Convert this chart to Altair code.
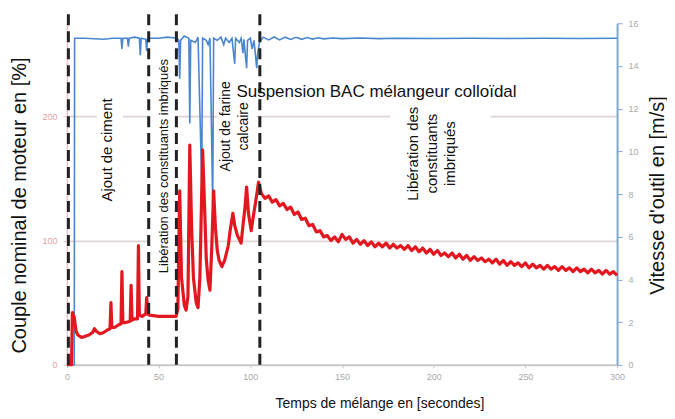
import altair as alt
import pandas as pd

# ---- data ----
red_t = [0, 2.5, 3, 4, 5, 6, 8, 10, 12, 14, 15, 16, 18, 20, 22, 23.5, 24, 24.5, 26, 28, 29.5, 30, 30.5,
         32, 34.5, 35, 35.5, 37, 38.5, 39, 39.5, 41, 43, 43.5, 44, 45, 50, 55, 59.5, 60.5, 61.5, 62.5,
         64, 65, 66, 67, 68, 69, 70.5, 71.5, 72.5, 74, 75, 76, 77, 78, 79, 80, 81, 82, 83, 84.5, 86, 87,
         88, 89, 90.5, 91.5, 93, 95, 96, 97, 98, 99, 100.5, 101.5, 103, 104.5, 105.5, 106,
         108, 110, 112, 114, 116, 118, 120, 122, 124, 126, 128, 130, 132, 134, 136, 138, 140, 142, 144,
         146, 148, 150, 152, 154, 156, 158, 160, 162, 164, 166, 168, 170, 172, 174, 176, 178, 180, 182,
         184, 186, 188, 190, 192, 194, 196, 198, 200, 202, 204, 206, 208, 210, 212, 214, 216, 218, 220,
         222, 224, 226, 228, 230, 232, 234, 236, 238, 240, 242, 244, 246, 248, 250, 252, 254, 256, 258,
         260, 262, 264, 266, 268, 270, 272, 274, 276, 278, 280, 282, 284, 286, 288, 290, 292, 294, 296,
         298, 300]
red_v = [0, 0, 42, 38, 27, 24, 22, 23, 24, 26, 29, 27, 25, 26, 28, 29, 50, 30, 30, 32, 33, 75, 34,
         34, 35, 64, 36, 37, 37, 96, 40, 39, 41, 54, 41, 40, 39, 39, 39, 45, 140, 70,
         48, 44, 55, 177, 110, 70, 50, 46, 70, 173, 130, 85, 68, 60, 95, 140, 110, 92, 84, 79, 84, 90,
         96, 108, 122, 112, 104, 98, 112, 125, 143, 122, 108, 118, 132, 147, 141, 138,
         134, 136, 131, 133, 128, 130, 125, 127, 121, 123, 117, 118, 112, 113, 107, 108, 103, 104, 100,
         103, 99, 105, 101, 103, 98, 101, 97, 100, 96, 99, 95, 98, 95, 98, 94, 97, 94, 96,
         93, 96, 92, 95, 91, 94, 90, 93, 89, 92, 88, 90, 87, 90, 86, 89, 85, 88, 84,
         87, 84, 86, 83, 85, 82, 85, 81, 84, 80, 83, 80, 82, 79, 82, 78, 81, 78, 80,
         77, 80, 77, 79, 76, 79, 76, 78, 75, 78, 75, 77, 74, 77, 74, 76, 73, 76, 73,
         75, 72]

blue_t = [0, 4, 4.2, 10, 20, 25, 29.5, 30, 30.5, 33, 33.5, 34, 37, 39.5, 40, 40.5, 43, 43.5, 44, 50, 55,
          60, 61, 61.5, 62, 64, 66.5, 67, 67.5, 70, 71.5, 73.5, 74, 76, 77, 78, 79.5, 80, 82, 84, 85.5,
          86.5, 88.5, 90, 91.5, 92, 94, 95, 96, 96.5, 98, 98.5, 100, 101, 102, 103.5, 104, 105, 107,
          110, 113, 116, 119, 122, 125, 128, 131, 134, 137, 140, 145, 150, 160, 170, 180, 200, 220,
          240, 260, 280, 300]
blue_v = [0, 0, 15.3, 15.3, 15.25, 15.3, 15.3, 14.8, 15.3, 15.3, 14.9, 15.3, 15.35, 15.3, 14.5, 15.3,
          15.25, 14.7, 15.3, 15.3, 15.35, 15.3, 15.2, 13.4, 15.2, 15.4, 15.3, 11.3, 15.2, 15.1, 15.35,
          8.5, 15.3, 15.2, 15.0, 15.3, 7.5, 15.3, 15.2, 15.35, 15.0, 15.3, 15.1, 15.3, 14.1, 15.3, 15.1,
          15.3, 14.6, 15.25, 13.9, 15.2, 15.3, 14.8, 15.2, 13.9, 14.6, 15.1, 15.35, 15.22, 15.36, 15.22,
          15.35, 15.24, 15.34, 15.25, 15.33, 15.26, 15.32, 15.27, 15.31, 15.28, 15.31, 15.28, 15.3, 15.29,
          15.3, 15.29, 15.3, 15.29, 15.3]

x_ticks = [0, 50, 100, 150, 200, 250, 300]
left_ticks = [0, 100, 200]
right_ticks = [0, 2, 4, 6, 8, 10, 12, 14, 16]

marker_t = [0.8, 44.6, 59.7, 105.2]

box_t1 = [16.3, 45.2, 82.2, 176.2]
box_t2 = [30.5, 59.3, 103.4, 231.0]
box_v1 = [125, 67, 146, 123]
box_v2 = [221, 248, 239, 213]

vert_text = ["Ajout de ciment", "Libération des constituants imbriqués", "Ajout de farine", "calcaire",
             "Libération des", "constituants", "imbriqués"]
vert_t = [21.8, 52.8, 86.6, 96.4, 188.9, 199.3, 209.1]
vert_v = [173, 160, 192, 192, 170, 170, 170]
vert_size = [15, 13, 14, 14, 15, 15, 15]

horiz_text = ["Suspension BAC mélangeur colloïdal"]
horiz_t = [168.8]
horiz_v = [219.5]

FONT = "Liberation Sans"

red_df = pd.DataFrame({"t": red_t, "v": red_v})
blue_df = pd.DataFrame({"t": blue_t, "v": blue_v})
mark_df = pd.DataFrame({"t": marker_t, "y0": [0] * len(marker_t), "y1": [285] * len(marker_t)})
box_df = pd.DataFrame({"t1": box_t1, "t2": box_t2, "v1": box_v1, "v2": box_v2})
vt_df = pd.DataFrame({"text": vert_text, "t": vert_t, "v": vert_v, "size": vert_size})
ht_df = pd.DataFrame({"text": horiz_text, "t": horiz_t, "v": horiz_v})

xscale = alt.Scale(domain=[0, 300], nice=False, zero=False)
lscale = alt.Scale(domain=[0, 275], nice=False, zero=True)
rscale = alt.Scale(domain=[0, 16], nice=False, zero=True)

x_axis = alt.Axis(values=x_ticks, title="Temps de mélange en [secondes]", grid=False,
                  labelFontSize=9, labelColor="#a9a9a9", tickColor="#c4c4c4", tickSize=3,
                  domainColor="#c8c8c8", domainWidth=1.5, labelPadding=5, labelFlush=False,
                  titleFontSize=14, titleFontWeight="normal", titleColor="#111111",
                  titleX=313, titleY=39, titleAlign="center", titleBaseline="middle")
left_axis = alt.Axis(values=left_ticks, title="Couple nominal de moteur en [%]", grid=True,
                     gridColor="#dfd4d4", gridWidth=1.8, labelFontSize=9, labelColor="#e3a0a0",
                     domainColor="#f0c4c4", domainWidth=1.5, tickColor="#f0c4c4", tickSize=4,
                     labelPadding=6, titleFontSize=20, titleFontWeight="normal", titleColor="#111111",
                     titleAngle=270, titleX=-47, titleY=182, titleAlign="center",
                     titleBaseline="middle")
right_axis = alt.Axis(orient="right", values=right_ticks, title="Vitesse d'outil en [m/s]",
                      grid=False, labelFontSize=9, labelColor="#a9a9a9", domainColor="#7ea8d4",
                      domainWidth=2, tickColor="#7ea8d4", tickSize=5, labelPadding=6,
                      titleFontSize=20, titleFontWeight="normal", titleColor="#111111",
                      titleAngle=270, titleX=40, titleY=172, titleAlign="center",
                      titleBaseline="middle")

boxes = alt.Chart(box_df).mark_rect(color="white", opacity=1).encode(
    x=alt.X("t1:Q", scale=xscale, axis=x_axis),
    x2="t2:Q",
    y=alt.Y("v1:Q", scale=lscale, axis=None),
    y2="v2:Q",
)

blue = alt.Chart(blue_df).mark_line(color="#4a86cf", strokeWidth=1.6).encode(
    x=alt.X("t:Q", scale=xscale, axis=x_axis),
    y=alt.Y("v:Q", scale=rscale, axis=right_axis),
)

red = alt.Chart(red_df).mark_line(color="#e3171f", strokeWidth=3.2, strokeJoin="round").encode(
    x=alt.X("t:Q", scale=xscale, axis=x_axis),
    y=alt.Y("v:Q", scale=lscale, axis=left_axis),
)

rules = alt.Chart(mark_df).mark_rule(color="#222222", strokeWidth=3, strokeDash=[11, 6]).encode(
    x=alt.X("t:Q", scale=xscale, axis=x_axis),
    y=alt.Y("y0:Q", scale=lscale, axis=left_axis),
    y2="y1:Q",
)

vtexts = alt.Chart(vt_df).mark_text(angle=270, align="center", baseline="middle",
                                    color="#111111", font=FONT).encode(
    x=alt.X("t:Q", scale=xscale, axis=x_axis),
    y=alt.Y("v:Q", scale=lscale, axis=left_axis),
    text="text:N",
    size=alt.Size("size:Q", scale=None, legend=None),
)

htexts = alt.Chart(ht_df).mark_text(align="center", baseline="middle", fontSize=17,
                                    color="#111111", font=FONT).encode(
    x=alt.X("t:Q", scale=xscale, axis=x_axis),
    y=alt.Y("v:Q", scale=lscale, axis=left_axis),
    text="text:N",
)

front = alt.layer(red, rules, vtexts, htexts)

chart = alt.layer(boxes, blue, front).resolve_scale(y="independent").properties(
    width=551, height=342,
    autosize=alt.AutoSizeParams(type="none"),
    padding={"left": 59, "top": 15, "right": 50, "bottom": 46},
    background="white",
).configure(font=FONT).configure_view(stroke=None)

chart.save("out.html", embed_options={"renderer": "svg", "actions": False})
